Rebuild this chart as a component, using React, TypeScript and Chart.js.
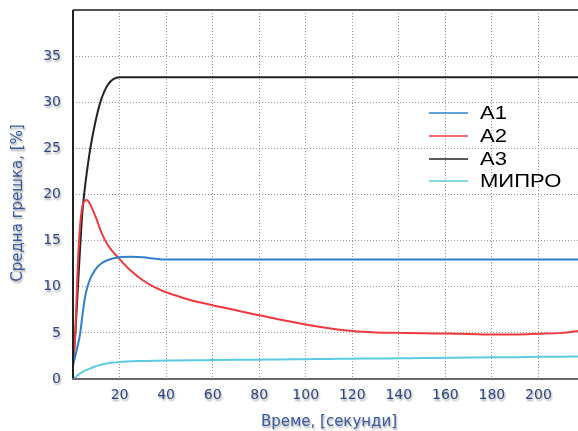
import React, { useEffect, useRef } from "react";
import { Chart, registerables } from "chart.js";
Chart.register(...registerables);

const times = [0, 1, 2, 3, 4, 5, 6, 7, 8, 10, 12, 15, 20, 25, 30, 35, 40, 50, 60, 70, 80, 90, 100, 110, 120, 130, 140, 150, 160, 170, 180, 190, 200, 210, 217];
const a1 = [1.5, 2.5, 3.6, 4.8, 6.8, 8.6, 9.8, 10.6, 11.2, 12.0, 12.5, 12.9, 13.2, 13.25, 13.2, 13.05, 12.95, 12.95, 12.95, 12.95, 12.95, 12.95, 12.95, 12.95, 12.95, 12.95, 12.95, 12.95, 12.95, 12.95, 12.95, 12.95, 12.95, 12.95, 12.95];
const a2 = [1.5, 5, 12, 16.5, 18.7, 19.3, 19.4, 19.1, 18.6, 17.4, 16.0, 14.5, 13.0, 11.7, 10.7, 9.95, 9.4, 8.6, 8.0, 7.45, 6.9, 6.4, 5.9, 5.5, 5.2, 5.05, 5.0, 4.95, 4.92, 4.88, 4.82, 4.82, 4.9, 5.0, 5.2];
const a3 = [1.5, 5, 9.5, 14, 18, 20.5, 22.5, 24.3, 25.8, 28.3, 30.2, 31.9, 32.7, 32.7, 32.7, 32.7, 32.7, 32.7, 32.7, 32.7, 32.7, 32.7, 32.7, 32.7, 32.7, 32.7, 32.7, 32.7, 32.7, 32.7, 32.7, 32.7, 32.7, 32.7, 32.7];
const mipro = [0, 0.2, 0.4, 0.6, 0.75, 0.9, 1.0, 1.1, 1.2, 1.4, 1.55, 1.7, 1.85, 1.92, 1.95, 1.98, 2.0, 2.02, 2.05, 2.08, 2.1, 2.12, 2.15, 2.17, 2.2, 2.22, 2.25, 2.27, 2.3, 2.32, 2.35, 2.37, 2.4, 2.42, 2.45];

const seriesNames = ["A1", "A2", "A3", "МИПРО"];
const seriesColors = ["#2f80d0", "#ee3a3f", "#222222", "#5ccae0"];
const xTickLabels = [20, 40, 60, 80, 100, 120, 140, 160, 180, 200];
const yTickLabels = [0, 5, 10, 15, 20, 25, 30, 35];
const xTitle = "Време, [секунди]";
const yTitle = "Средна грешка, [%]";

const overlay = {
  id: "overlay",
  afterDraw(chart: any) {
    const ctx = chart.ctx;
    const area = chart.chartArea;
    const xs = chart.scales.x;
    const ys = chart.scales.y;
    ctx.save();
    // frame
    ctx.lineWidth = 2;
    ctx.strokeStyle = "#555555";
    ctx.beginPath();
    ctx.moveTo(area.left, area.top);
    ctx.lineTo(area.right, area.top);
    ctx.stroke();
    ctx.strokeStyle = "#222222";
    ctx.beginPath();
    ctx.moveTo(area.left, area.top);
    ctx.lineTo(area.left, area.bottom);
    ctx.stroke();
    ctx.strokeStyle = "#6a6a6a";
    ctx.beginPath();
    ctx.moveTo(area.left - 1, area.bottom);
    ctx.lineTo(area.right, area.bottom);
    ctx.stroke();

    // tick labels with shadow
    ctx.shadowColor = "rgba(0,0,0,0.35)";
    ctx.shadowOffsetX = 1;
    ctx.shadowOffsetY = 2;
    ctx.shadowBlur = 2;
    ctx.fillStyle = "#2d4683";
    ctx.font = "14px 'DejaVu Sans'";
    ctx.textAlign = "center";
    ctx.textBaseline = "middle";
    xTickLabels.forEach((v) => {
      ctx.fillText(String(v), xs.getPixelForValue(v), area.bottom + 16);
    });
    ctx.textAlign = "right";
    yTickLabels.forEach((v) => {
      ctx.fillText(String(v), area.left - 12, ys.getPixelForValue(v));
    });
    // titles
    ctx.fillStyle = "#3a5a9c";
    ctx.font = "15px 'DejaVu Sans'";
    ctx.textAlign = "center";
    ctx.fillText(xTitle, 329, 422);
    ctx.save();
    ctx.translate(18, 203);
    ctx.rotate(-Math.PI / 2);
    ctx.fillText(yTitle, 0, 0);
    ctx.restore();

    // legend
    ctx.shadowColor = "rgba(0,0,0,0)";
    ctx.shadowBlur = 0;
    ctx.shadowOffsetX = 0;
    ctx.shadowOffsetY = 0;
    const legendY = [113, 136, 159, 181];
    ctx.font = "19px 'Liberation Sans'";
    ctx.textAlign = "left";
    ctx.textBaseline = "middle";
    seriesNames.forEach((name, i) => {
      ctx.strokeStyle = seriesColors[i];
      ctx.lineWidth = 1.5;
      ctx.beginPath();
      ctx.moveTo(429, legendY[i]);
      ctx.lineTo(468, legendY[i]);
      ctx.stroke();
      ctx.fillStyle = "#000000";
      ctx.save();
      ctx.translate(480, legendY[i] + 1);
      ctx.scale(1.16, 1);
      ctx.fillText(name, 0, 0);
      ctx.restore();
    });
    ctx.restore();
  },
};

export default function App() {
  const ref = useRef<HTMLCanvasElement>(null);
  useEffect(() => {
    if (!ref.current) return;
    const series = [a1, a2, a3, mipro];
    const chart = new Chart(ref.current, {
      type: "line",
      data: {
        datasets: series.map((vals, i) => ({
          label: seriesNames[i],
          data: times.map((t, j) => ({ x: t, y: vals[j] })),
          borderColor: seriesColors[i],
          backgroundColor: seriesColors[i],
          borderWidth: 2,
          pointRadius: 0,
          cubicInterpolationMode: "monotone" as const,
          fill: false,
        })),
      },
      options: {
        responsive: false,
        animation: false,
        devicePixelRatio: 1,
        layout: { padding: { top: 10, right: 0, left: 0, bottom: 0 } },
        plugins: { legend: { display: false }, tooltip: { enabled: false } },
        scales: {
          x: {
            type: "linear",
            min: 0,
            max: 217,
            ticks: { stepSize: 20, display: false, includeBounds: false },
            grid: { color: "#9a9a9a", drawTicks: false, lineWidth: 1 },
            border: { display: false, dash: [1, 2] },
            afterFit: (s: any) => { s.height = 52; },
          },
          y: {
            type: "linear",
            min: 0,
            max: 40,
            ticks: { stepSize: 5, display: false },
            grid: { color: "#9a9a9a", drawTicks: false, lineWidth: 1 },
            border: { display: false, dash: [1, 2] },
            afterFit: (s: any) => { s.width = 73; },
          },
        },
      },
      plugins: [overlay],
    });
    return () => chart.destroy();
  }, []);
  return (
    <div style={{ position: "absolute", left: 0, top: 0, width: 578, height: 431, background: "#fff" }}>
      <canvas ref={ref} width={578} height={431} />
    </div>
  );
}
